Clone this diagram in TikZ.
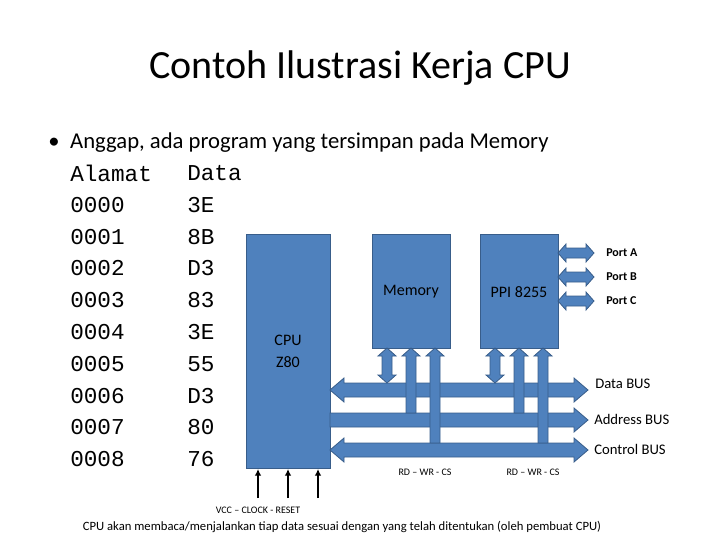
\documentclass[tikz,border=0pt]{standalone}
\usepackage{fontspec}
\usetikzlibrary{arrows.meta}
\setmainfont{Carlito}
\newfontfamily\monof{Liberation Mono}
\definecolor{boxfill}{HTML}{4F81BD}
\definecolor{boxline}{HTML}{385D8A}
\newcommand\dharr[6]{\draw[shp] (#1,#3) -- ({#1+#4},{#3-#6}) -- ({#1+#4},{#3-#5}) -- ({#2-#4},{#3-#5}) -- ({#2-#4},{#3-#6}) -- (#2,#3) -- ({#2-#4},{#3+#6}) -- ({#2-#4},{#3+#5}) -- ({#1+#4},{#3+#5}) -- ({#1+#4},{#3+#6}) -- cycle;}
\newcommand\rharr[6]{\draw[shp] (#1,{#3-#5}) -- ({#2-#4},{#3-#5}) -- ({#2-#4},{#3-#6}) -- (#2,#3) -- ({#2-#4},{#3+#6}) -- ({#2-#4},{#3+#5}) -- (#1,{#3+#5}) -- cycle;}
\newcommand\dvarr[6]{\draw[shp] (#3,#1) -- ({#3-#6},{#1+#4}) -- ({#3-#5},{#1+#4}) -- ({#3-#5},{#2-#4}) -- ({#3-#6},{#2-#4}) -- (#3,#2) -- ({#3+#6},{#2-#4}) -- ({#3+#5},{#2-#4}) -- ({#3+#5},{#1+#4}) -- ({#3+#6},{#1+#4}) -- cycle;}
\newcommand\uvarr[6]{\draw[shp] (#3,#1) -- ({#3-#6},{#1+#4}) -- ({#3-#5},{#1+#4}) -- ({#3-#5},#2) -- ({#3+#5},#2) -- ({#3+#5},{#1+#4}) -- ({#3+#6},{#1+#4}) -- cycle;}
\begin{document}
\begin{tikzpicture}[x=0.75pt,y=-0.75pt,
  shp/.style={fill=boxfill,draw=boxline,line width=0.6pt,line join=miter},
  blk/.style={shp,anchor=north west,inner sep=0pt},
  lbl/.style={font=\fontsize{11}{13}\selectfont,inner sep=0pt},
  mono/.style={font=\monof\fontsize{17}{20}\selectfont,anchor=west,inner sep=0pt}]
\useasboundingbox (0,0) rectangle (720,540);
\node (title) at (360,68) {\fontsize{30}{36}\selectfont Contoh Ilustrasi Kerja CPU};
\node[anchor=west,inner sep=0pt] (bul) at (48,143) {\fontsize{17}{20}\selectfont •\hspace{8pt}Anggap, ada program yang tersimpan pada Memory};
\foreach \a/\d [count=\i from 0] in {Alamat/Data,0000/3E,0001/8B,0002/D3,0003/83,0004/3E,0005/55,0006/D3,0007/80,0008/76}{
  \node[mono] (a\i) at (70,{173+31.8*\i}) {\a};
  \node[mono] (d\i) at (187,{173+31.8*\i}) {\d};
}
\node[blk,minimum width=84*0.75pt,minimum height=234*0.75pt] (cpu) at (246,234) {};
\node[blk,minimum width=78*0.75pt,minimum height=114*0.75pt] (mem) at (372,234) {};
\node[blk,minimum width=78*0.75pt,minimum height=114*0.75pt] (ppi) at (480,234) {};
\node[font=\fontsize{12}{14}\selectfont] at (288,340) {CPU};
\node[font=\fontsize{12}{14}\selectfont] at (288,362) {Z80};
\node[font=\fontsize{12}{14}\selectfont] at (411,292) {Memory};
\node[font=\fontsize{12}{14}\selectfont] at (519,292) {PPI 8255};
\foreach \y/\t in {253/A,277/B,301/C}{
  \dharr{558}{594}{\y}{8}{5}{9}
  \node[lbl,font=\bfseries\fontsize{9}{11}\selectfont,anchor=west] at (606,\y) {Port \t};
}
\dharr{330}{588}{390}{14}{7}{12}
\rharr{330}{588}{420}{14}{7}{12}
\dharr{330}{588}{450}{14}{7}{12}
\node[lbl,font=\fontsize{11}{13}\selectfont,anchor=west] at (595,384) {Data BUS};
\node[lbl,font=\fontsize{11}{13}\selectfont,anchor=west] at (594,419) {Address BUS};
\node[lbl,font=\fontsize{11}{13}\selectfont,anchor=west] at (594,449) {Control BUS};
\foreach \x in {387,495}{
  \dvarr{348}{383}{\x}{8}{5}{9}
  \uvarr{348}{413}{\x+24}{8}{5}{9}
  \uvarr{348}{443}{\x+48}{8}{5}{9}
}
\node[font=\fontsize{7.5}{9}\selectfont] at (425,472) {RD -- WR - CS};
\node[font=\fontsize{7.5}{9}\selectfont] at (533,472) {RD -- WR - CS};
\foreach \x in {258,288,318}{
  \coordinate (b\x) at (\x,498);
  \draw[line width=1.4pt,-{Latex[length=5pt,width=5pt]}] (b\x) -- (\x,469);
}
\node[font=\fontsize{7.5}{9}\selectfont] at (258,510) {VCC -- CLOCK - RESET};
\node[font=\fontsize{9.5}{11}\selectfont] at (342,527) {CPU akan membaca/menjalankan tiap data sesuai dengan yang telah ditentukan (oleh pembuat CPU)};
\end{tikzpicture}
\end{document}
